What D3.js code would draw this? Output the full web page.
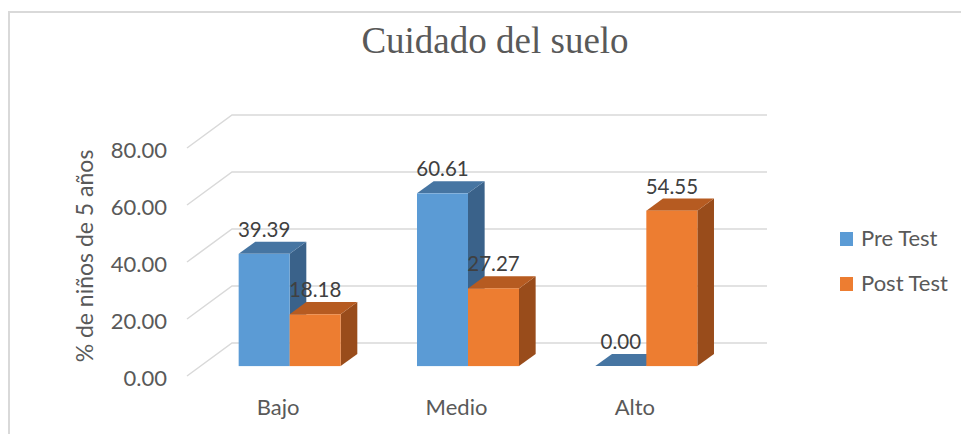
<!DOCTYPE html>
<html>
<head>
    <title>Cuidado del suelo</title>
    <style>
        body { margin: 0; background: #fff; }
        .grid { stroke: #d9d9d9; stroke-width: 1.5px; fill: none; }
        .tick { font-family: Lato, sans-serif; font-size: 22px; fill: #595959; }
        .cat { font-family: Lato, sans-serif; font-size: 22px; fill: #595959; }
        .value { font-family: Lato, sans-serif; font-size: 20.5px; fill: #404040; }
        .legend { font-family: Lato, sans-serif; font-size: 22px; fill: #595959; }
        .title { font-family: "Liberation Serif", serif; font-size: 37px; fill: #595959; }
        .ytitle { font-family: Lato, sans-serif; font-size: 23px; fill: #595959; }
    </style>
    <script src="https://d3js.org/d3.v7.min.js"></script>
</head>
<body>
    <svg width="961" height="434"></svg>
    <script>
        const categories = ["Bajo", "Medio", "Alto"];
        const series = ["Pre Test", "Post Test"];
        const preTest = [39.39, 60.61, 0.00];
        const postTest = [18.18, 27.27, 54.55];
        const yTicks = [0, 20, 40, 60, 80];

        const colors = {
            "Pre Test": { front: "#5b9bd5", top: "#4675a2", side: "#3a628a" },
            "Post Test": { front: "#ed7d31", top: "#b65b21", side: "#994c1b" }
        };

        const svg = d3.select("svg");

        // chart frame
        svg.append("rect")
            .attr("x", 9).attr("y", 12)
            .attr("width", 1000).attr("height", 500)
            .attr("fill", "none").attr("stroke", "#d9d9d9").attr("stroke-width", 2);

        // front floor plane scales, depth vector for the 3D look
        const x = d3.scaleBand().domain(categories).range([187, 722]);
        const y = d3.scaleLinear().domain([0, 80]).range([376, 148]);
        const DX = 45, DY = -33;
        const t0 = 0.3, t1 = 0.67;
        const barW = x.bandwidth() * 0.286;
        const xSub = d3.scaleBand().domain(series).range([-barW, barW]);

        // gridlines: back wall + left wall diagonal
        yTicks.forEach(t => {
            const yy = y(t);
            svg.append("path")
                .attr("class", "grid")
                .attr("d", `M${x.range()[0]},${yy} L${x.range()[0] + DX},${yy + DY} L${x.range()[1] + DX},${yy + DY}`);
            svg.append("text")
                .attr("class", "tick")
                .attr("x", 167)
                .attr("y", yy + 2)
                .attr("dy", "0.35em")
                .attr("text-anchor", "end")
                .text(t.toFixed(2));
        });

        // bars
        const rows = categories.map((c, i) => ({ cat: c, values: [
            { s: "Pre Test", v: preTest[i] },
            { s: "Post Test", v: postTest[i] }
        ]}));

        const dx = (t1 - t0) * DX, dy = (t1 - t0) * DY;
        rows.forEach(r => {
            const cx = x(r.cat) + x.bandwidth() / 2 + t0 * DX;
            r.values.forEach(d => {
                const x0 = cx + xSub(d.s);
                const x1 = x0 + xSub.bandwidth();
                const yb = y(0) + t0 * DY;
                const yt = y(d.v) + t0 * DY;
                const c = colors[d.s];
                const g = svg.append("g");
                g.append("path")
                    .attr("fill", c.side)
                    .attr("d", `M${x1},${yt} L${x1 + dx},${yt + dy} L${x1 + dx},${yb + dy} L${x1},${yb} Z`);
                g.append("path")
                    .attr("fill", c.top)
                    .attr("d", `M${x0},${yt} L${x0 + dx},${yt + dy} L${x1 + dx},${yt + dy} L${x1},${yt} Z`);
                g.append("rect")
                    .attr("fill", c.front)
                    .attr("x", x0).attr("y", yt)
                    .attr("width", x1 - x0).attr("height", yb - yt);
                d.lx = (x0 + x1) / 2;
                d.ly = yt - 17;
            });
        });

        // value labels on top
        rows.forEach(r => r.values.forEach(d => {
            svg.append("text")
                .attr("class", "value")
                .attr("x", d.lx)
                .attr("y", d.ly)
                .attr("text-anchor", "middle")
                .text(d.v.toFixed(2));
        }));

        // category labels
        svg.selectAll(".cat")
            .data(categories)
            .enter()
            .append("text")
            .attr("class", "cat")
            .attr("x", d => x(d) + x.bandwidth() / 2 + 2)
            .attr("y", 415)
            .attr("text-anchor", "middle")
            .text(d => d);

        // y axis title
        svg.append("text")
            .attr("class", "ytitle")
            .attr("transform", "translate(93,256) rotate(-90)")
            .attr("text-anchor", "middle")
            .text("% de niños de 5 años");

        // title
        svg.append("text")
            .attr("class", "title")
            .attr("x", 495)
            .attr("y", 53)
            .attr("text-anchor", "middle")
            .text("Cuidado del suelo");

        // legend
        const leg = svg.selectAll(".leg")
            .data(series)
            .enter()
            .append("g")
            .attr("transform", (d, i) => `translate(840,${232 + i * 45})`);
        leg.append("rect")
            .attr("width", 13).attr("height", 14)
            .attr("fill", d => colors[d].front);
        leg.append("text")
            .attr("class", "legend")
            .attr("x", 21)
            .attr("y", 14)
            .text(d => d);
    </script>
</body>
</html>
